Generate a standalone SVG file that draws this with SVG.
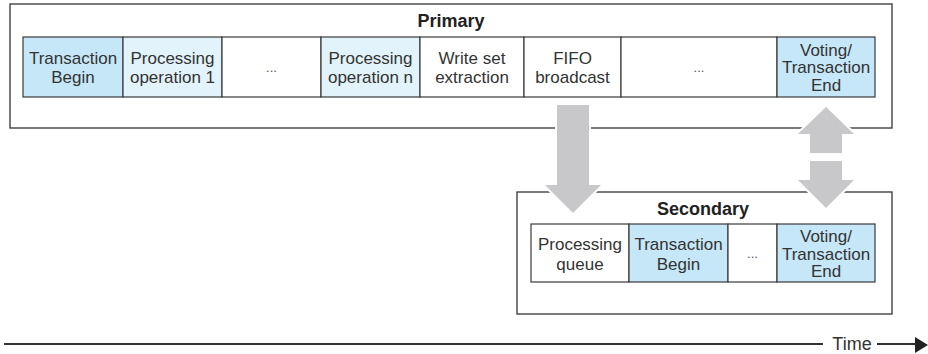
<svg xmlns="http://www.w3.org/2000/svg" width="928" height="354" viewBox="0 0 928 354">
<style>
.box{fill:#fff;stroke:#333;stroke-width:1.3}
.cell{stroke:#3a3a3a;stroke-width:1.2}
.w{fill:#fff}
.b{fill:#c6e7f8}
.lb{fill:#e2f3fb}
text{font-family:"Liberation Sans",Arial,sans-serif;font-size:17px;fill:#333;text-anchor:middle}
.title{font-weight:bold;font-size:18px;fill:#222}
.dots{font-size:13px;fill:#555}
.arrow{fill:#c8c8ca;stroke:#fff;stroke-width:4;paint-order:stroke}
.axis{stroke:#333;stroke-width:2;fill:none}
</style>
<rect width="928" height="354" fill="#fff"/>
<g id="primary">
<rect class="box" x="10" y="4" width="882" height="124"/>
<text class="title" x="451" y="27">Primary</text>
<g id="p-txbegin"><rect class="cell b" x="23" y="37" width="100" height="60"/><text x="73" y="64">Transaction</text><text x="73" y="83">Begin</text></g>
<g id="p-op1"><rect class="cell lb" x="123" y="37" width="99" height="60"/><text x="172.5" y="64">Processing</text><text x="172.5" y="83">operation 1</text></g>
<g id="p-dots1"><rect class="cell w" x="222" y="37" width="99" height="60"/><text class="dots" x="271.5" y="72">...</text></g>
<g id="p-opn"><rect class="cell lb" x="321" y="37" width="99" height="60"/><text x="370.5" y="64">Processing</text><text x="370.5" y="83">operation n</text></g>
<g id="p-writeset"><rect class="cell w" x="420" y="37" width="104" height="60"/><text x="472" y="64">Write set</text><text x="472" y="83">extraction</text></g>
<g id="p-fifo"><rect class="cell w" x="524" y="37" width="97" height="60"/><text x="572.5" y="64">FIFO</text><text x="572.5" y="83">broadcast</text></g>
<g id="p-dots2"><rect class="cell w" x="621" y="37" width="156" height="60"/><text class="dots" x="699" y="72">...</text></g>
<g id="p-voting"><rect class="cell b" x="777" y="37" width="98" height="60"/><text x="826" y="56">Voting/</text><text x="826" y="73.3">Transaction</text><text x="826" y="90.5">End</text></g>
</g>
<g id="secondary">
<rect class="box" x="517" y="192" width="375" height="122"/>
<text class="title" x="703" y="215">Secondary</text>
<g id="s-queue"><rect class="cell w" x="531" y="224" width="98" height="58"/><text x="580" y="250">Processing</text><text x="580" y="269.5">queue</text></g>
<g id="s-txbegin"><rect class="cell b" x="629" y="224" width="99" height="58"/><text x="678.5" y="250">Transaction</text><text x="678.5" y="269.5">Begin</text></g>
<g id="s-dots"><rect class="cell w" x="728" y="224" width="49" height="58"/><text class="dots" x="752.5" y="258">...</text></g>
<g id="s-voting"><rect class="cell b" x="777" y="224" width="98" height="58"/><text x="826" y="242">Voting/</text><text x="826" y="259.5">Transaction</text><text x="826" y="277.3">End</text></g>
</g>
<g id="connectors">
<polygon class="arrow" points="557,105 589,105 589,185 601,185 573,213 545,185 557,185"/>
<polygon class="arrow" points="826,107 854,134 842,134 842,153 810,153 810,134 798,134"/>
<polygon class="arrow" points="810,161 842,161 842,180 854,180 826,208 798,180 810,180"/>
<line class="axis" x1="4" y1="344" x2="823" y2="344"/>
<text x="852" y="350" style="font-size:18px">Time</text>
<line class="axis" x1="877" y1="344" x2="917" y2="344"/>
<polygon points="915,337 928,345 915,353" fill="#222"/>
</g>
</svg>
